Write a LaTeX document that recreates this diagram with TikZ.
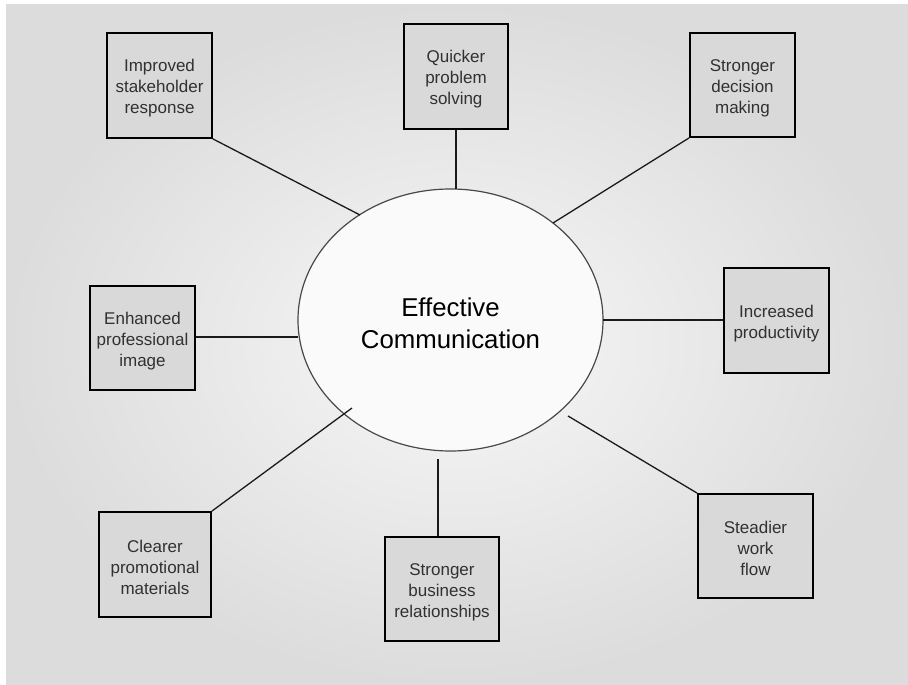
\documentclass[tikz,border=0pt]{standalone}
\usepackage{fontspec}
\setmainfont{Liberation Sans}
\usetikzlibrary{shapes.geometric}
\definecolor{boxfill}{HTML}{D9D9D9}
\definecolor{ink}{HTML}{1A1A1A}
\definecolor{edge}{HTML}{DCDCDC}
% taller first line, so the text block sits a little lower in its box
\newcommand{\lowerfirst}{\rule{0pt}{18pt}}
\begin{document}
\begin{tikzpicture}[x=1pt,y=-1pt,
  benefit/.style={draw=black, line width=1.8pt, fill=boxfill, text=ink!90,
    align=center, inner sep=0pt,
    font=\fontsize{17}{21}\selectfont},
  hub/.style={ellipse, draw=ink!80, line width=1.2pt, fill=white!98!black,
    inner sep=0pt, minimum width=305pt, minimum height=262pt},
  spoke/.style={draw=ink, line width=1.3pt}]
  \useasboundingbox (0,0) rectangle (908,685);
  % shaded backdrop
  \shade[inner color=white!97!black, outer color=edge] (6,5) rectangle (908,685);

  % central idea
  \node[hub] (hub) at (450.5,320) {};
  \node[text=black, align=center, font=\fontsize{25.8}{32}\selectfont]
    (title) at (450.5,323) {Effective\\Communication};

  % surrounding benefits
  \node[benefit, minimum width=105pt, minimum height=105pt] (b1) at (159.5,85.5)
    {\lowerfirst Improved\\stakeholder\\response};
  \node[benefit, minimum width=104pt, minimum height=105pt] (b2) at (456,76.5)
    {\lowerfirst Quicker\\problem\\solving};
  \node[benefit, minimum width=105pt, minimum height=104pt] (b3) at (742.5,85)
    {\lowerfirst Stronger\\decision\\making};
  \node[benefit, minimum width=105pt, minimum height=105pt] (b4) at (776.5,320.5)
    {\lowerfirst Increased\\productivity};
  \node[benefit, minimum width=115pt, minimum height=104pt] (b5) at (755.5,546)
    {\lowerfirst Steadier\\work\\flow};
  \node[benefit, minimum width=114pt, minimum height=104pt] (b6) at (442,589)
    {\lowerfirst Stronger\\business\\relationships};
  \node[benefit, minimum width=112pt, minimum height=105pt] (b7) at (155,564.5)
    {\lowerfirst Clearer\\promotional\\materials};
  \node[benefit, minimum width=105pt, minimum height=104pt] (b8) at (142.5,338)
    {\lowerfirst Enhanced\\professional\\image};

  % points where the spokes meet the hub
  \coordinate (h1) at (360,215);
  \coordinate (h2) at (456,189);
  \coordinate (h3) at (553,223);
  \coordinate (h4) at (603,320);
  \coordinate (h5) at (568,416);
  \coordinate (h6) at (438,459);
  \coordinate (h7) at (352,408);
  \coordinate (h8) at (298,337);

  % spokes
  \draw[spoke] (b1.south east) -- (h1);
  \draw[spoke] (b2.south) -- (h2);
  \draw[spoke] (b3.south west) -- (h3);
  \draw[spoke] (h4) -- (h4 -| b4.west);
  \draw[spoke] (h5) -- (b5.north west);
  \draw[spoke] (h6) -- (h6 |- b6.north);
  \draw[spoke] (b7.north east) -- (h7);
  \draw[spoke] (h8 -| b8.east) -- (h8);
\end{tikzpicture}
\end{document}
